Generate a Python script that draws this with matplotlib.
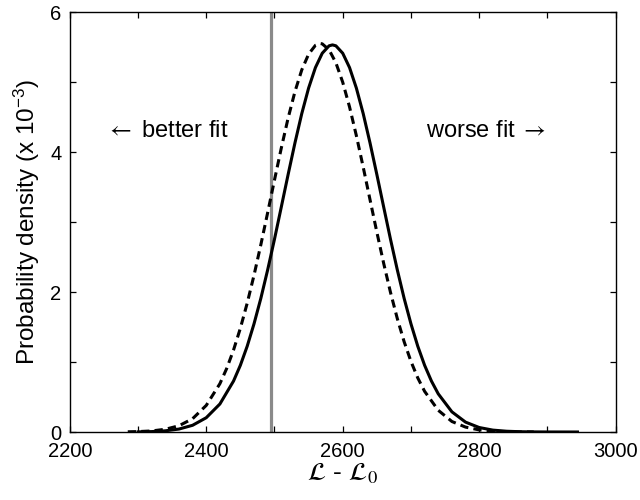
import matplotlib
matplotlib.use("Agg")
import matplotlib.pyplot as plt
from matplotlib.ticker import MultipleLocator

plt.rcParams['font.family'] = ['Liberation Sans', 'DejaVu Sans']
plt.rcParams['mathtext.fontset'] = 'custom'
plt.rcParams['mathtext.rm'] = 'Liberation Sans'
plt.rcParams['mathtext.it'] = 'Liberation Sans:italic'

# Solid curve (x, density x 1e-3)
solid_x = [2300, 2320, 2340, 2360, 2380, 2400, 2420, 2440, 2450, 2460, 2470,
           2480, 2490, 2500, 2510, 2520, 2530, 2540, 2550, 2560, 2570, 2580,
           2585, 2590, 2600, 2610, 2620, 2630, 2640, 2650, 2660, 2670, 2680,
           2690, 2700, 2710, 2720, 2730, 2740, 2760, 2780, 2800, 2820, 2840,
           2860, 2880, 2900, 2944]
solid_y = [0.002, 0.006, 0.017, 0.042, 0.096, 0.204, 0.40, 0.728, 0.953, 1.225, 1.545,
           1.909, 2.316, 2.754, 3.215, 3.679, 4.130, 4.549, 4.913, 5.206, 5.411, 5.517,
           5.53, 5.517, 5.411, 5.206, 4.913, 4.549, 4.130, 3.679, 3.215, 2.754, 2.316,
           1.909, 1.545, 1.225, 0.953, 0.728, 0.545, 0.288, 0.141, 0.064, 0.027, 0.011,
           0.004, 0.0015, 0.0005, 0.0]

# Dashed curve
dashed_x = [2285, 2300, 2320, 2340, 2360, 2380, 2400, 2420, 2430, 2440, 2450,
            2460, 2470, 2480, 2490, 2500, 2510, 2520, 2530, 2540, 2550, 2560,
            2567, 2570, 2580, 2590, 2600, 2610, 2620, 2630, 2640, 2650, 2660,
            2670, 2680, 2690, 2700, 2710, 2720, 2740, 2760, 2780, 2800, 2820,
            2840, 2860, 2880]
dashed_y = [0.003, 0.006, 0.015, 0.039, 0.089, 0.19, 0.38, 0.69, 0.908, 1.171, 1.482,
            1.840, 2.239, 2.675, 3.133, 3.600, 4.057, 4.485, 4.863, 5.173, 5.398, 5.524,
            5.55, 5.545, 5.460, 5.274, 4.997, 4.644, 4.233, 3.785, 3.319, 2.856, 2.410,
            1.995, 1.620, 1.290, 1.008, 0.772, 0.581, 0.310, 0.15, 0.07, 0.03, 0.012,
            0.004, 0.001, 0.0]

threshold_x = 2495

xticks = [2200, 2400, 2600, 2800, 3000]
yticks = [0, 2, 4, 6]

fig = plt.figure(figsize=(6.4, 5.0), dpi=100)
ax = fig.add_axes([0.109, 0.136, 0.853, 0.84])

ax.axvline(threshold_x, color='#8a8a8a', lw=2.3, zorder=1)
ax.plot(dashed_x, dashed_y, color='black', lw=2.2, linestyle=(0, (2.7, 1.7)), zorder=2)
ax.plot(solid_x, solid_y, color='black', lw=2.2, zorder=3)

ax.set_xlim(2200, 3000)
ax.set_ylim(0, 6)
ax.set_xticks(xticks)
ax.set_yticks(yticks)
ax.xaxis.set_minor_locator(MultipleLocator(100))
ax.yaxis.set_minor_locator(MultipleLocator(1))
ax.tick_params(which='both', direction='in', top=True, right=True, labelsize=14.5,
               length=4.5, width=0.9)
ax.tick_params(axis='x', which='major', pad=7)
ax.tick_params(axis='y', which='major', pad=6)
for s in ax.spines.values():
    s.set_linewidth(1.0)

ax.set_ylabel(r'Probability density (x 10$^{-3}$)', fontsize=17.5, labelpad=6)
ax.set_xlabel(r'$\mathcal{L}$ - $\mathcal{L}_{\mathit{0}}$', fontsize=19,
              math_fontfamily='stix', labelpad=0)

ax.text(2253, 4.21, r'$\leftarrow$ better fit', fontsize=17, ha='left', va='baseline',
        math_fontfamily='stix')
ax.text(2898, 4.21, r'worse fit $\rightarrow$', fontsize=17, ha='right', va='baseline',
        math_fontfamily='stix')

fig.savefig('out.png', dpi=100)
